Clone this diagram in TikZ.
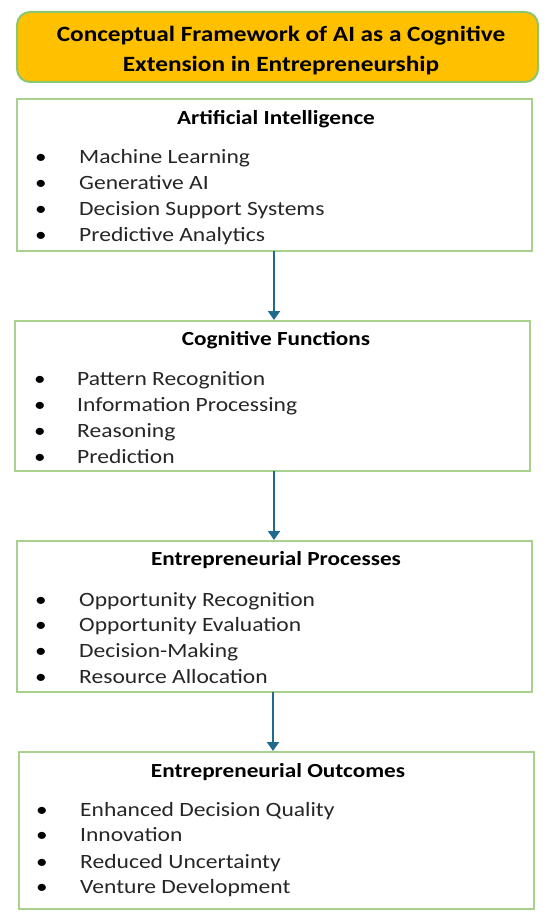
\documentclass[tikz,border=0pt]{standalone}
\usepackage{fontspec}
\setmainfont[FakeStretch=1.16]{Carlito}
\usetikzlibrary{arrows.meta}
\definecolor{gold}{HTML}{FFC000}
\definecolor{boxgreen}{HTML}{A9D18E}
\definecolor{titleedge}{HTML}{8CC66E}
\definecolor{arrowblue}{HTML}{1F6A8E}
\tikzset{
  titlebox/.style={draw=titleedge, line width=2pt, fill=gold, rounded corners=13pt, minimum width=521pt, minimum height=70pt},
  titletext/.style={align=center, font=\fontsize{21.8}{30}\selectfont\bfseries, anchor=mid},
  framebox/.style={draw=boxgreen, line width=2pt, fill=white, minimum width=515pt},
  heading/.style={font=\fontsize{20}{22}\selectfont\bfseries, anchor=mid},
  item/.style={font=\fontsize{20.3}{22}\selectfont, anchor=mid west, inner sep=0pt, text=black!85},
  bul/.style={font=\fontsize{20}{22}\selectfont, anchor=mid, inner sep=0pt},
  flow/.style={draw=arrowblue, line width=2pt, -{Triangle[width=12pt,length=9pt]}}
}
\begin{document}
\begin{tikzpicture}[x=1pt,y=-1pt]
\useasboundingbox (0,0) rectangle (549,923);
\fill[white] (0,0) rectangle (549,923);
\node[titlebox] (title) at (277.5,47) {};
\node[titletext] (tl1) at (281,39) {Conceptual Framework of AI as a Cognitive};
\node[titletext] (tl2) at (281,69) {Extension in Entrepreneurship};

\node[framebox, minimum height=152pt] (b1) at (274.5,175) {};
\node[framebox, minimum height=150pt] (b2) at (272.5,396) {};
\node[framebox, minimum height=151pt] (b3) at (274.5,616.5) {};
\node[framebox, minimum height=157pt] (b4) at (276,830.5) {};

\node[heading] (h1) at (276,122) {Artificial Intelligence};
\node[bul] (b1i1) at (41,161) {•}; \node[item] (t1i1) at (79,161) {Machine Learning};
\node[bul] (b1i2) at (41,187) {•}; \node[item] (t1i2) at (79,187) {Generative AI};
\node[bul] (b1i3) at (41,213) {•}; \node[item] (t1i3) at (79,213) {Decision Support Systems};
\node[bul] (b1i4) at (41,239) {•}; \node[item] (t1i4) at (79,239) {Predictive Analytics};

\node[heading] (h2) at (276,343) {Cognitive Functions};
\node[bul] (b2i1) at (40,383) {•}; \node[item] (t2i1) at (77,383) {Pattern Recognition};
\node[bul] (b2i2) at (40,409) {•}; \node[item] (t2i2) at (77,409) {Information Processing};
\node[bul] (b2i3) at (40,435) {•}; \node[item] (t2i3) at (77,435) {Reasoning};
\node[bul] (b2i4) at (40,461) {•}; \node[item] (t2i4) at (77,461) {Prediction};

\node[heading] (h3) at (276,563) {Entrepreneurial Processes};
\node[bul] (b3i1) at (41,604) {•}; \node[item] (t3i1) at (79,604) {Opportunity Recognition};
\node[bul] (b3i2) at (41,629) {•}; \node[item] (t3i2) at (79,629) {Opportunity Evaluation};
\node[bul] (b3i3) at (41,655) {•}; \node[item] (t3i3) at (79,655) {Decision-Making};
\node[bul] (b3i4) at (41,681) {•}; \node[item] (t3i4) at (79,681) {Resource Allocation};

\node[heading] (h4) at (278,775) {Entrepreneurial Outcomes};
\node[bul] (b4i1) at (42,814) {•}; \node[item] (t4i1) at (80,814) {Enhanced Decision Quality};
\node[bul] (b4i2) at (42,839) {•}; \node[item] (t4i2) at (80,839) {Innovation};
\node[bul] (b4i3) at (42,866) {•}; \node[item] (t4i3) at (80,866) {Reduced Uncertainty};
\node[bul] (b4i4) at (42,891) {•}; \node[item] (t4i4) at (80,891) {Venture Development};

\coordinate (a1s) at (274,251);
\draw[flow] (a1s) -- (a1s |- b2.north);
\coordinate (a2s) at (274,471);
\draw[flow] (a2s) -- (a2s |- b3.north);
\coordinate (a3s) at (273,692);
\draw[flow] (a3s) -- (a3s |- b4.north);
\end{tikzpicture}
\end{document}
